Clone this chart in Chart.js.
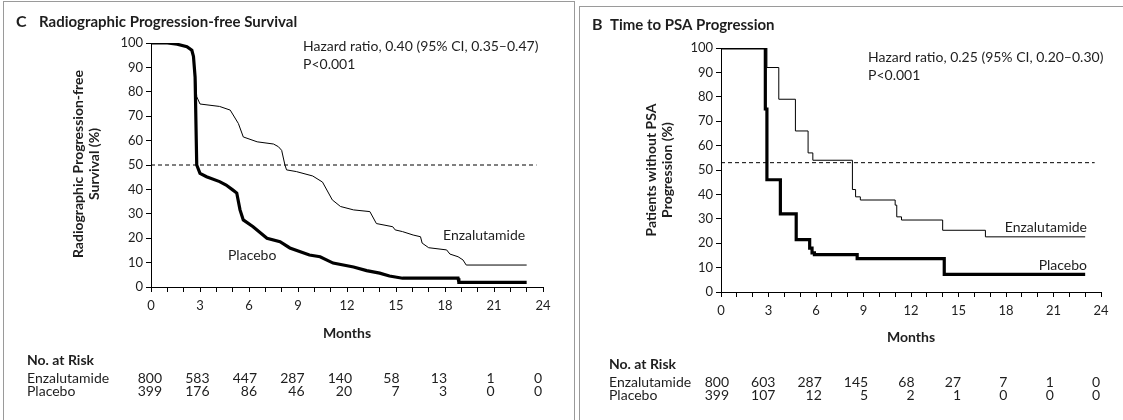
<!DOCTYPE html>
<html>
<head>
<meta charset="utf-8">
<script src="https://cdn.jsdelivr.net/npm/chart.js@4.4.1/dist/chart.umd.min.js"></script>
<style>
html,body{margin:0;padding:0;background:#fff;width:1123px;height:420px;overflow:hidden;}
.panel{position:absolute;box-sizing:border-box;border-color:#9a9a9a;border-style:solid;}
#p1{left:3px;top:1px;width:572px;height:440px;border-width:1px 1px 0 1px;}
#p2{left:579px;top:6px;width:560px;height:440px;border-width:1px 0 0 1px;}
canvas{position:absolute;}
#c1{left:4px;top:2px;}
#c2{left:580px;top:7px;}
</style>
</head>
<body>
<div class="panel" id="p1"></div>
<div class="panel" id="p2"></div>
<canvas id="c1" width="570" height="418"></canvas>
<canvas id="c2" width="543" height="413"></canvas>
<script>
const FONT = "Lato, 'Open Sans', 'DejaVu Sans', sans-serif";
const INK = '#1e1e1e';

// ---- Panel C: Radiographic progression-free survival ----
const rpfsEnzaMonths = [0, 1.0, 1.6, 2.2, 2.5, 2.6, 2.7, 2.8, 3.0, 4.2, 4.85, 5.35, 5.65, 6.5, 7.5, 7.8, 8.0, 8.2, 8.3, 8.9, 9.9, 10.5, 11.1, 11.6, 12.4, 13.4, 13.8, 14.8, 14.95, 15.4, 16.05, 16.5, 16.6, 17.0, 18.1, 18.3, 18.8, 19.1, 19.3, 23.0];
const rpfsEnzaValues = [100, 100, 99.5, 98.5, 97, 94.5, 88, 78, 75, 74, 72.5, 67, 61.5, 59.5, 58.6, 57.5, 56, 50, 48, 47.3, 45.5, 43, 35.7, 33, 31.6, 30.9, 26, 24.7, 23.4, 22.7, 21.3, 20.6, 18, 16.1, 15.2, 13.5, 12.4, 11.1, 9, 9];
const rpfsPlacMonths = [0, 1.0, 1.6, 2.2, 2.5, 2.6, 2.7, 2.8, 3.0, 3.4, 4.2, 4.6, 5.0, 5.25, 5.45, 5.65, 6.25, 7.1, 7.9, 8.5, 9.7, 10.35, 11.15, 12.4, 13.2, 14.0, 14.6, 15.4, 18.8, 18.85, 23.0];
const rpfsPlacValues = [100, 100, 99.5, 98.5, 97, 94.5, 86, 50, 46.6, 45.2, 43.2, 41.8, 39.8, 38.5, 31.6, 27.5, 24.7, 20, 18.6, 16, 13.1, 12.4, 9.8, 8.2, 6.7, 5.7, 4.5, 3.6, 3.6, 1.9, 1.9];
const rpfsRefMonths = [0, 23.6];
const rpfsRefValues = [50, 50];
const rpfsRiskEnza = [800, 583, 447, 287, 140, 58, 13, 1, 0];
const rpfsRiskPlac = [399, 176, 86, 46, 20, 7, 3, 0, 0];

// ---- Panel B: Time to PSA progression ----
const psaEnzaMonths = [0, 2.9, 3.65, 4.7, 5.5, 5.8, 8.3, 8.5, 8.8, 11.0, 11.1, 11.4, 14.0, 16.7, 23.0];
const psaEnzaValues = [100, 92, 79, 66, 57, 54, 42, 39, 37.7, 35.6, 30.8, 29.5, 25.3, 22.6, 22.6];
const psaPlacMonths = [0, 2.8, 2.9, 3.75, 4.75, 5.6, 5.75, 5.9, 8.6, 14.1, 23.0];
const psaPlacValues = [100, 75, 46, 32, 21.5, 18, 16, 15.3, 13.7, 7.2, 7.2];
const psaRefMonths = [0, 23.6];
const psaRefValues = [53, 53];
const psaRiskEnza = [800, 603, 287, 145, 68, 27, 7, 1, 0];
const psaRiskPlac = [399, 107, 12, 5, 2, 1, 0, 0, 0];

// shared axis
const riskMonths = [0, 3, 6, 9, 12, 15, 18, 21, 24];
const xMin = 0, xMax = 24, yMin = 0, yMax = 100;

function pts(xs, ys){ return xs.map((x,i)=>({x:x, y:ys[i]})); }

function makeScales(yWidth, xHeight){
  const tickFont = {family: FONT, size: 13};
  return {
    x: {
      type:'linear', min:xMin, max:xMax,
      afterFit(s){ s.height = xHeight; },
      ticks:{stepSize:1, autoSkip:false, maxRotation:0, padding:6, color:INK, font:tickFont,
        callback:(v)=> (riskMonths.includes(v) ? String(v) : '')},
      grid:{drawOnChartArea:false, drawTicks:true, tickLength:5, color:'#000', lineWidth:1},
      border:{display:true, color:'#000', width:1}
    },
    y: {
      min:yMin, max:yMax,
      afterFit(s){ s.width = yWidth; },
      ticks:{stepSize:10, padding:3, color:INK, font:tickFont},
      grid:{drawOnChartArea:false, drawTicks:true, tickLength:5, color:'#000', lineWidth:1},
      border:{display:true, color:'#000', width:1}
    }
  };
}

function textPlugin(c){
  return {
    id:'panelText',
    afterDraw(chart){
      const ctx = chart.ctx;
      const xs = chart.scales.x;
      ctx.save();
      ctx.fillStyle = INK;
      ctx.textBaseline = 'middle';
      // panel title
      ctx.font = `bold 16px ${FONT}`;
      ctx.textAlign = 'left';
      ctx.fillText(c.letter, c.title[0], c.title[1]);
      ctx.font = `bold 15px ${FONT}`;
      ctx.fillText(c.titleText, c.title[2], c.title[1]);
      // hazard ratio
      ctx.font = `14px ${FONT}`;
      ctx.fillText(c.hr, c.hrPos[0], c.hrPos[1]);
      ctx.fillText('P<0.001', c.hrPos[0], c.hrPos[1] + 18);
      // curve labels
      ctx.textAlign = c.labelAlign;
      ctx.fillText('Enzalutamide', c.enzaLabel[0], c.enzaLabel[1]);
      ctx.fillText('Placebo', c.placLabel[0], c.placLabel[1]);
      // y-axis title
      ctx.font = `bold 14px ${FONT}`;
      ctx.textAlign = 'center';
      c.yTitle.forEach((line, i) => {
        ctx.save();
        ctx.translate(c.yTitlePos[0] + i * 16, c.yTitlePos[1]);
        ctx.rotate(-Math.PI / 2);
        ctx.fillText(line, 0, 0);
        ctx.restore();
      });
      // x-axis title
      ctx.fillText('Months', (chart.chartArea.left + chart.chartArea.right) / 2, c.monthsY);
      // number at risk
      ctx.textAlign = 'left';
      ctx.font = `bold 14px ${FONT}`;
      ctx.fillText('No. at Risk', c.riskX, c.riskY);
      ctx.font = `14px ${FONT}`;
      ctx.fillText('Enzalutamide', c.riskX, c.riskY + 18);
      ctx.fillText('Placebo', c.riskX, c.riskY + 31);
      ctx.textAlign = 'right';
      riskMonths.forEach((m, i) => {
        const px = xs.getPixelForValue(m) + c.riskShift(i);
        ctx.fillText(String(c.riskEnza[i]), px, c.riskY + 18);
        ctx.fillText(String(c.riskPlac[i]), px, c.riskY + 31);
      });
      ctx.restore();
    }
  };
}

function makeChart(id, d, layout, txt){
  return new Chart(document.getElementById(id), {
    type:'line',
    data:{datasets:[
      {data:pts(d.refM, d.refV), borderColor:'#000', borderWidth:1, borderDash:[4,3], pointRadius:0, fill:false},
      {data:pts(d.enzaM, d.enzaV), borderColor:'#000', borderWidth:1, pointRadius:0, fill:false, stepped:d.stepped, tension:0},
      {data:pts(d.placM, d.placV), borderColor:'#000', borderWidth:3.2, pointRadius:0, fill:false, stepped:d.stepped, tension:0, borderJoinStyle:'miter', borderCapStyle:'butt'}
    ]},
    options:{
      responsive:false, animation:false, devicePixelRatio:1,
      layout:{padding:layout.padding},
      plugins:{legend:{display:false}, tooltip:{enabled:false}, title:{display:false}},
      scales:makeScales(layout.yWidth, layout.xHeight)
    },
    plugins:[textPlugin(txt)]
  });
}

makeChart('c1',
  {refM:rpfsRefMonths, refV:rpfsRefValues, enzaM:rpfsEnzaMonths, enzaV:rpfsEnzaValues, placM:rpfsPlacMonths, placV:rpfsPlacValues, stepped:false},
  {padding:{left:0, right:31, top:41, bottom:0}, yWidth:147, xHeight:133},
  {letter:'C', titleText:'Radiographic Progression-free Survival', title:[12, 20, 35],
   hr:'Hazard ratio, 0.40 (95% CI, 0.35\u20130.47)', hrPos:[299, 44],
   labelAlign:'left', enzaLabel:[439, 233], placLabel:[224, 253],
   yTitle:['Radiographic Progression-free', 'Survival (%)'], yTitlePos:[74, 162],
   monthsY:331, riskX:23, riskY:358,
   riskEnza:rpfsRiskEnza, riskPlac:rpfsRiskPlac, riskShift:(i)=> 11 - 1.5 * i});

makeChart('c2',
  {refM:psaRefMonths, refV:psaRefValues, enzaM:psaEnzaMonths, enzaV:psaEnzaValues, placM:psaPlacMonths, placV:psaPlacValues, stepped:'before'},
  {padding:{left:0, right:22, top:41, bottom:0}, yWidth:141, xHeight:128},
  {letter:'B', titleText:'Time to PSA Progression', title:[12, 18, 30],
   hr:'Hazard ratio, 0.25 (95% CI, 0.20\u20130.30)', hrPos:[288, 50],
   labelAlign:'right', enzaLabel:[507, 220], placLabel:[507, 258],
   yTitle:['Patients without PSA', 'Progression (%)'], yTitlePos:[71, 163],
   monthsY:330, riskX:29, riskY:357,
   riskEnza:psaRiskEnza, riskPlac:psaRiskPlac, riskShift:(i)=> 8 - 1.1 * i});
</script>
</body>
</html>
